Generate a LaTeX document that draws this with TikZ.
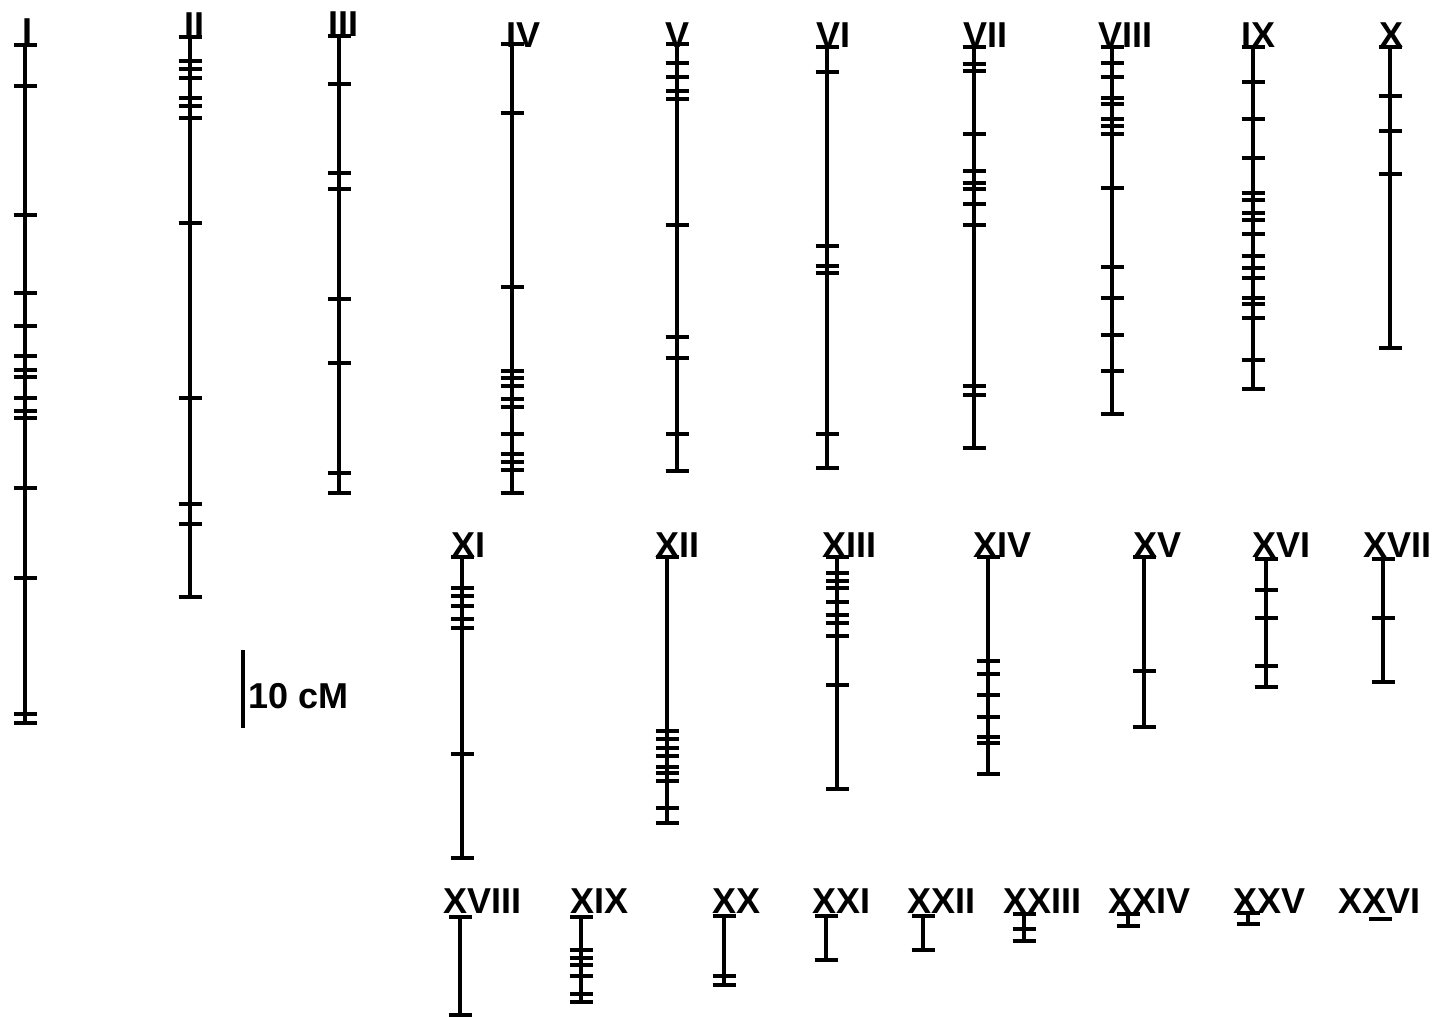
\documentclass[tikz,border=0pt]{standalone}
\usepackage{fontspec}
\setmainfont{Liberation Sans}
\tikzset{
  chrline/.style={line width=3.5pt, line cap=butt},
  tickmark/.style={line width=3.8pt, line cap=butt},
  lab/.style={font=\fontsize{36}{36}\selectfont\bfseries, inner sep=0pt, anchor=base west},
}
\newcommand{\chromo}[4]{%
  \draw[chrline] (#1,#2) -- (#1,#3);
  \foreach \t in {#4} \draw[tickmark] ({#1-11.5},\t) -- ({#1+11.5},\t);
}
\begin{document}
\begin{tikzpicture}[x=1pt,y=-1pt]
\useasboundingbox (0,0) rectangle (1433,1017);
% ---- row 1 ----
\chromo{25}{45}{723}{45,86,215,293,326,356,370,377,398,411,418,488,578,714,723}
\chromo{190}{37}{597}{37,61,69,78,98,106,118,223,398,504,524,597}
\chromo{339}{36}{493}{36,84,173,189,299,363,473,493}
\chromo{512}{44}{493}{44,113,287,371,378,386,399,407,434,454,462,470,493}
\chromo{677}{44}{471}{44,63,77,91,99,225,337,358,434,471}
\chromo{827}{47}{468}{47,72,246,266,273,434,468}
\chromo{974}{47}{448}{47,64,71,134,171,183,189,204,225,386,395,448}
\chromo{1112}{47}{414}{47,63,77,98,104,119,126,134,188,267,298,335,371,414}
\chromo{1253}{47}{389}{47,82,119,158,193,200,213,220,234,256,268,278,298,304,318,360,389}
\chromo{1390}{47}{348}{47,96,131,174,348}
\node[lab] (lI) at (22,43) {I};
\node[lab] (lII) at (184,37) {II};
\node[lab] (lIII) at (328,36) {III};
\node[lab] (lIV) at (506,47) {IV};
\node[lab] (lV) at (665,47) {V};
\node[lab] (lVI) at (816,47) {VI};
\node[lab] (lVII) at (963,47) {VII};
\node[lab] (lVIII) at (1098,47) {VIII};
\node[lab] (lIX) at (1241,47) {IX};
\node[lab] (lX) at (1379,47) {X};
% ---- row 2 ----
\chromo{462}{557}{858}{557,588,596,606,619,628,754,858}
\chromo{667}{557}{823}{557,731,739,748,756,767,773,781,808,823}
\chromo{837}{557}{789}{557,573,581,588,602,615,623,636,685,789}
\chromo{988}{557}{774}{557,661,674,695,717,737,743,774}
\chromo{1144}{557}{727}{557,671,727}
\chromo{1266}{559}{687}{559,590,618,666,687}
\chromo{1383}{559}{682}{559,618,682}
\node[lab] (lXI) at (451,557) {XI};
\node[lab] (lXII) at (655,557) {XII};
\node[lab] (lXIII) at (822,557) {XIII};
\node[lab] (lXIV) at (973,557) {XIV};
\node[lab] (lXV) at (1133,557) {XV};
\node[lab] (lXVI) at (1252,557) {XVI};
\node[lab] (lXVII) at (1363,557) {XVII};
% ---- row 3 ----
\chromo{460}{917}{1015}{917,1015}
\chromo{581}{917}{1002}{917,950,958,965,976,994,1002}
\chromo{724}{916}{985}{916,976,985}
\chromo{826}{916}{960}{916,960}
\chromo{923}{916}{950}{916,950}
\chromo{1024}{914}{941}{914,929,941}
\chromo{1128}{914}{926}{914,926}
\chromo{1248}{913}{924}{913,924}
\chromo{1380}{919}{919}{919}
\node[lab] (lXVIII) at (443,913) {XVIII};
\node[lab] (lXIX) at (570,913) {XIX};
\node[lab] (lXX) at (712,913) {XX};
\node[lab] (lXXI) at (812,913) {XXI};
\node[lab] (lXXII) at (907,913) {XXII};
\node[lab] (lXXIII) at (1003,913) {XXIII};
\node[lab] (lXXIV) at (1108,913) {XXIV};
\node[lab] (lXXV) at (1233,913) {XXV};
\node[lab] (lXXVI) at (1338,913) {XXVI};
% ---- scale bar ----
\draw[line width=4pt] (243,650) -- (243,728);
\node[lab] (scale) at (248,708) {10 cM};
\end{tikzpicture}
\end{document}
